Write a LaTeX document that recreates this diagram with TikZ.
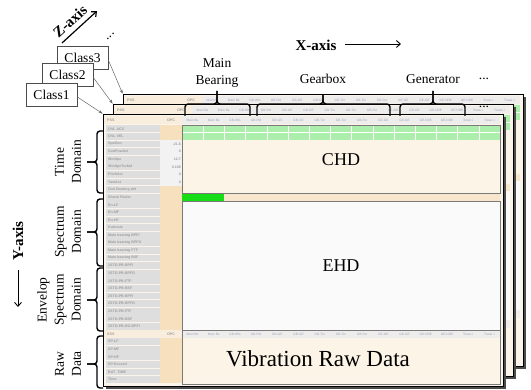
\documentclass[tikz,border=0pt]{standalone}
\usepackage{fontspec}
\setmainfont{Liberation Serif}
\newfontfamily\cellfont{Liberation Sans}
\usepackage{tikz}
\usetikzlibrary{arrows.meta,positioning,decorations.pathreplacing,shadows}
\usepackage{xcolor}

\definecolor{sheetbg}{HTML}{FBF4EA}
\definecolor{namegray}{HTML}{DEDEDE}
\definecolor{opcbeige}{HTML}{F7E0BE}
\definecolor{opcgray}{HTML}{F2F2F2}
\definecolor{hdrbeige}{HTML}{F9EEDD}
\definecolor{hdrgray}{HTML}{EEEDEC}
\definecolor{chdbg}{HTML}{FCF4E6}
\definecolor{ehdbg}{HTML}{FAFAFA}
\definecolor{softgreen}{HTML}{ACEFAC}
\definecolor{hotgreen}{HTML}{16DC16}
\definecolor{shockbg}{HTML}{F8E6CC}
\definecolor{framegray}{HTML}{7A7A7A}
\definecolor{headblue}{HTML}{9EA3B8}

\begin{document}
\begin{tikzpicture}[x=1pt, y=-1pt,
      every node/.style={font=\fontsize{13.5}{17}\selectfont},
      sheet/.style={
        rectangle, draw=black, line width=0.8pt, fill=sheetbg,
        minimum width=400pt, minimum height=272pt, inner sep=0pt,
        drop shadow={shadow xshift=3pt, shadow yshift=-3pt,
          fill=black!70, opacity=1}
      },
      celltext/.style={font=\cellfont\bfseries\fontsize{3.6}{4}\selectfont,
        text=black!38, inner sep=0pt},
      colhead/.style={font=\cellfont\fontsize{3.2}{4}\selectfont,
        text=headblue, inner sep=0pt},
      regionbox/.style={
        rectangle, draw=framegray, line width=0.7pt,
        minimum width=318pt, inner sep=0pt
      },
      bigtext/.style={font=\fontsize{18}{20}\selectfont},
      classbox/.style={
        rectangle, draw=black!70, fill=white, line width=0.6pt,
        minimum width=51pt, minimum height=23pt, inner sep=0pt
      },
      domlabel/.style={rotate=90, align=center},
      axislabel/.style={font=\fontsize{15}{17}\selectfont\bfseries, inner sep=1pt},
      brc/.style={line width=1.4pt, rounded corners=3pt},
      ptr/.style={-{Stealth[length=4pt, width=3pt]}, black!60, line width=0.5pt},
      axarr/.style={-{Straight Barb[length=4pt, width=7pt]}, line width=0.9pt}
    ]

    \useasboundingbox (0,0) rectangle (531,390);

    % ===== The three stacked data sheets, back to front =====
    \foreach \sh/\off in {3/20, 2/10, 1/0}{
      \begin{scope}[shift={(\off,-\off)}]
        \node[sheet] (sheet\sh) at (303,250) {};

        % header rows
        \foreach \hy/\hn in {116/PSS, 330.2/SSS}{
          \fill[hdrbeige] (104,\hy) rectangle (182,{\hy+8});
          \fill[hdrgray] (182,\hy) rectangle (500,{\hy+8});
          \node[celltext, anchor=west] (hd\sh-\hn) at (107,{\hy+4}) {\hn};
          \node[celltext] (hopc\sh-\hn) at (171,{\hy+4}) {OPC};
          \foreach \col/\cn in {0/Main Be, 1/Main Be, 2/GB-Wfs, 3/GB-RO, 4/GB-GE,
              5/GB-GE, 6/GB-Tor, 7/GB-Tor, 8/GB-Pur, 9/GE-GE, 10/GE-GE,
              11/GE-NDE, 12/GE-NDE, 13/Tower-i, 14/Tower-i}{
            \node[colhead] (ch\sh-\hn-\col) at ({192.6+21.2*\col},{\hy+4}) {\cn};
          }
        }

        % data areas
        \fill[chdbg] (182,125) rectangle (500,193.4);
        \fill[softgreen] (182,125.4) rectangle (500,139.8);
        \foreach \col in {1,...,14}
          \draw[white, line width=0.5pt] ({182+21.2*\col},125.4) -- ({182+21.2*\col},139.8);
        \draw[white, line width=0.5pt] (182,132.6) -- (500,132.6);
        \fill[shockbg] (182,193.8) rectangle (500,200.6);
        \fill[hotgreen] (182,193.8) rectangle (224,200.6);
        \fill[ehdbg] (182,201) rectangle (500,330.2);
        \fill[chdbg] (182,338.2) rectangle (500,383.4);

        % row names and OPC column
        \foreach \i/\nm in {1/OVL ACC, 2/OVL VEL, 3/SpeGen, 4/GenPowAct, 5/WinSpe,
            6/WinSpeTurbid, 7/PitchAct, 8/YawAct, 9/Ovrl Bearing def, 10/Shock Finder,
            11/En-LF, 12/En-MF, 13/En-HF, 14/Kurtosis, 15/Main bearing BPFI,
            16/Main bearing BPFO, 17/Main bearing FTF, 18/Main bearing BSF,
            19/1STG-PB-BPFI, 20/1STG-PB-BPFO, 21/1STG-PB-FTF, 22/1STG-PB-BSF,
            23/2STG-PB-BPFI, 24/2STG-PB-BPFO, 25/2STG-PB-FTF, 26/2STG-PB-BSF,
            27/3STG-PB-RG-BPFI, 29/SP-LF, 30/SP-MF, 31/SP-HF, 32/SP-Exceed,
            33/BAT\_TIME, 34/Time}{
          \fill[namegray] (106,{117.4+7.6*\i+0.4}) rectangle (159.6,{117.4+7.6*\i+7.2});
          \fill[opcbeige] (160.4,{117.4+7.6*\i}) rectangle (181.6,{117.4+7.6*\i+7.6});
          \node[celltext, anchor=west] (row\sh-\i) at (108,{117.4+7.6*\i+3.8}) {\nm};
        }
        \foreach \i/\val in {3/-21.6, 4/0, 5/12.7, 6/0.106, 7/0, 8/0}{
          \fill[opcgray] (160.4,{117.4+7.6*\i}) rectangle (181.6,{117.4+7.6*\i+7.6});
          \node[celltext, anchor=east] (opc\sh-\i) at (181,{117.4+7.6*\i+3.8}) {\val};
        }
      \end{scope}
    }

    % ===== Regions on the front sheet =====
    \node[regionbox, bigtext, minimum height=68.4pt] (chd) at (341,159.2) {CHD};
    \node[regionbox, bigtext, minimum height=129.2pt] (ehd) at (341,265.6) {EHD};
    \node[regionbox, minimum height=54pt] (raw) at (341,357.8) {};
    \node[font=\fontsize{23}{25}\selectfont] (vib) at (318,359) {Vibration Raw Data};
    \node[anchor=base] (sheetdots) at (484,108) {...};

    % ===== Class boxes and Z-axis =====
    \node[classbox] (c3) at (82.5,57.5) {Class3};
    \node[classbox] (c2) at (67.5,75) {Class2};
    \node[classbox] (c1) at (51.5,94.5) {Class1};
    \draw[ptr] ([yshift=-2.5pt]c3.east) -- (sheet3.north west);
    \draw[ptr] ([yshift=-2.5pt]c2.east) -- (sheet2.north west);
    \draw[ptr] ([yshift=-2.5pt]c1.east) -- (sheet1.north west);

    \coordinate (zfrom) at (62,43);
    \coordinate (zto) at (97,11);
    \draw[axarr, line width=1.2pt] (zfrom) -- (zto);
    \node[axislabel, rotate=42] (zlab) at (70,21) {Z-axis};
    \node[anchor=base, rotate=42, inner sep=0pt] (zdots) at (111,37) {...};

    % ===== X-axis and the component braces =====
    \node[axislabel] (xlab) at (316,45) {X-axis};
    \coordinate (xfrom) at (345,44);
    \coordinate (xto) at (401,44);
    \draw[axarr] (xfrom) -- (xto);

    \node[align=center] (mainbear) at (217,73) {Main\\Bearing};
    \node (gearbox) at (323,79) {Gearbox};
    \node (generator) at (433,79) {Generator};
    \node[anchor=base] (topdots) at (484,80) {...};

    \foreach \a/\m/\b/\t in {185/217/250/91, 257/323/390/95, 400/433/465/91}{
      \draw[brc] (\a,116) -- (\a,104) -- (\m,104) -- (\m,\t);
      \draw[brc] (\m,\t) -- (\m,104) -- (\b,104) -- (\b,116);
    }

    % ===== Y-axis and the domain braces =====
    \node[axislabel, rotate=90] (ylab) at (18,241) {Y-axis};
    \coordinate (yfrom) at (18,270);
    \coordinate (yto) at (18,307);
    \draw[axarr] (yfrom) -- (yto);

    \foreach \a/\m/\b in {131/162/193, 199/232/266, 268/300/331, 336/364/388}{
      \draw[brc] (103,\a) -- (97,\a) -- (97,\m) -- (87,\m);
      \draw[brc] (87,\m) -- (97,\m) -- (97,\b) -- (103,\b);
    }
    \node[domlabel] (timedom) at (68,162) {Time\\Domain};
    \node[domlabel] (specdom) at (68,232) {Spectrum\\Domain};
    \node[domlabel] (envdom) at (59,300) {Envelop\\Spectrum\\Domain};
    \node[domlabel] (rawdom) at (68,364) {Raw\\Data};
  \end{tikzpicture}
\end{document}
